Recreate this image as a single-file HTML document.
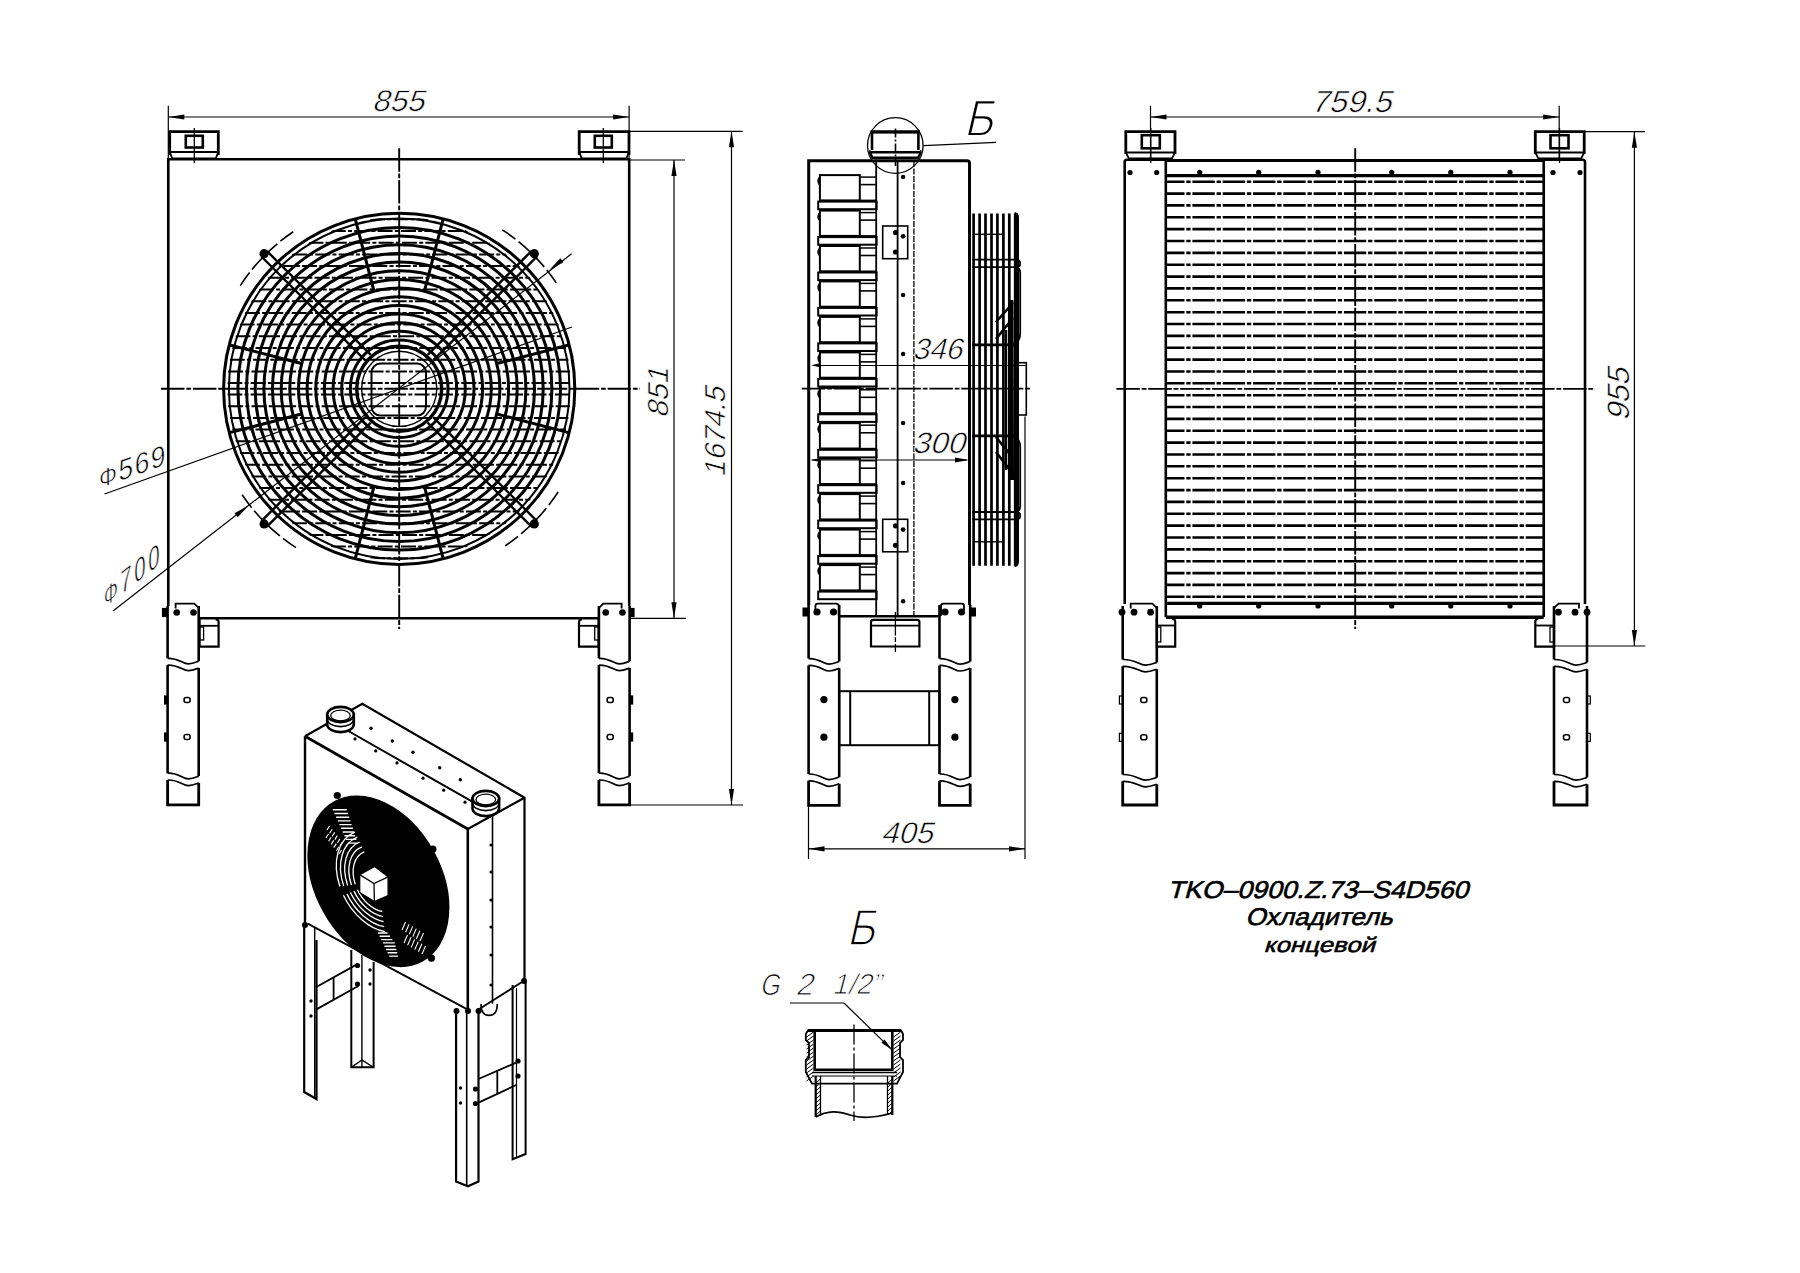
<!DOCTYPE html>
<html><head><meta charset="utf-8"><style>
html,body{margin:0;padding:0;background:#fff;}
svg{display:block;}
text{font-family:"Liberation Sans",sans-serif;font-style:italic;fill:#000;}
</style></head><body>
<svg width="1800" height="1273" viewBox="0 0 1800 1273">
<rect x="0" y="0" width="1800" height="1273" fill="#fff"/>
<g fill="none" stroke="#000" stroke-linecap="butt">
<line x1="168.3" y1="105.8" x2="168.3" y2="159" stroke-width="1.2" />
<line x1="629.1" y1="105.8" x2="629.1" y2="159" stroke-width="1.2" />
<line x1="168.3" y1="117" x2="629.1" y2="117" stroke-width="1.2" />
<path d="M168.3,117 L184.3,114.4 L184.3,119.6 Z" fill="#000" stroke="none"/>
<path d="M629.1,117 L613.1,119.6 L613.1,114.4 Z" fill="#000" stroke="none"/>
<path d="M169.7,155 L169.7,131.7 L218.3,131.7 L218.3,155" stroke-width="2.8" />
<line x1="169.7" y1="152" x2="218.3" y2="152" stroke-width="2.0" />
<path d="M169.7,152 L172.2,158.3 L215.8,158.3 L218.3,152" stroke-width="1.8" />
<rect x="185.8" y="135.8" width="17" height="11.7" stroke-width="2.6" />
<line x1="194.3" y1="128" x2="194.3" y2="163" stroke-width="1.3" />
<path d="M579.2,155 L579.2,131.7 L629,131.7 L629,155" stroke-width="2.8" />
<line x1="579.2" y1="152" x2="629" y2="152" stroke-width="2.0" />
<path d="M579.2,152 L581.7,158.3 L626.5,158.3 L629,152" stroke-width="1.8" />
<rect x="594.8" y="135.8" width="17" height="11.7" stroke-width="2.6" />
<line x1="603.3" y1="128" x2="603.3" y2="163" stroke-width="1.3" />
<path d="M168.3,606 V159.2 H629.2 V606" stroke-width="2.6" />
<line x1="198.7" y1="618.3" x2="598.9" y2="618.3" stroke-width="2.6" />
<line x1="399.2" y1="148.2" x2="399.2" y2="629" stroke-width="1.9" stroke-dasharray="23.5 1.8 4.8 1.8"/>
<line x1="161" y1="388.7" x2="640" y2="388.7" stroke-width="1.9" stroke-dasharray="23.5 1.8 4.8 1.8"/>
<line x1="629" y1="160" x2="685" y2="160" stroke-width="1.2" />
<line x1="630" y1="618.3" x2="686" y2="618.3" stroke-width="1.2" />
<line x1="674" y1="160" x2="674" y2="618.3" stroke-width="1.2" />
<path d="M674,160 L676.6,176 L671.4,176 Z" fill="#000" stroke="none"/>
<path d="M674,618.3 L671.4,602.3 L676.6,602.3 Z" fill="#000" stroke="none"/>
<line x1="629" y1="131.3" x2="742.7" y2="131.3" stroke-width="1.2" />
<line x1="630" y1="805" x2="743" y2="805" stroke-width="1.2" />
<line x1="731.5" y1="131.3" x2="731.5" y2="805" stroke-width="1.2" />
<path d="M731.5,131.3 L734.1,147.3 L728.9,147.3 Z" fill="#000" stroke="none"/>
<path d="M731.5,805 L728.9,789 L734.1,789 Z" fill="#000" stroke="none"/>

<path d="M167.6,606 V658.3 M198.7,606 V661.2" stroke-width="2.6" />
<path d="M167.6,658.3 C178.5,657.8 183.1,664.1 188.4,663.9 C193.1,663.8 196.2,662.1 198.7,661.2 M167.6,665.1 C178.5,664.6 183.1,670.9 188.4,670.7 C193.1,670.6 196.2,668.9 198.7,668" stroke-width="1.7" />
<path d="M167.6,665.1 V773.2 M198.7,668 V776.1" stroke-width="2.6" />
<path d="M167.6,773.2 C178.5,772.7 183.1,779 188.4,778.8 C193.1,778.7 196.2,777 198.7,776.1 M167.6,780 C178.5,779.5 183.1,785.8 188.4,785.6 C193.1,785.5 196.2,783.8 198.7,782.9" stroke-width="1.7" />
<path d="M167.6,780 V804.8 H198.7 V782.9" stroke-width="2.8" />
<path d="M175.6,608.5 V603.6 H194.2 L198.7,607.8" stroke-width="1.8" />
<rect x="184.1" y="697.5" width="6" height="5" stroke-width="1.6" rx="2"/>
<rect x="164.6" y="696" width="3" height="8" stroke-width="1.2" fill="#000"/>
<rect x="184.1" y="734.5" width="6" height="5" stroke-width="1.6" rx="2"/>
<rect x="164.6" y="733" width="3" height="8" stroke-width="1.2" fill="#000"/>
<path d="M598.9,606 V658.3 M629.6,606 V661.2" stroke-width="2.6" />
<path d="M598.9,658.3 C609.6,657.8 614.2,664.1 619.5,663.9 C624.1,663.8 627.1,662.1 629.6,661.2 M598.9,665.1 C609.6,664.6 614.2,670.9 619.5,670.7 C624.1,670.6 627.1,668.9 629.6,668" stroke-width="1.7" />
<path d="M598.9,665.1 V773.2 M629.6,668 V776.1" stroke-width="2.6" />
<path d="M598.9,773.2 C609.6,772.7 614.2,779 619.5,778.8 C624.1,778.7 627.1,777 629.6,776.1 M598.9,780 C609.6,779.5 614.2,785.8 619.5,785.6 C624.1,785.5 627.1,783.8 629.6,782.9" stroke-width="1.7" />
<path d="M598.9,780 V804.8 H629.6 V782.9" stroke-width="2.8" />
<path d="M598.9,607.8 L603.4,603.6 H621.6 V608.5" stroke-width="1.8" />
<rect x="607.2" y="697.5" width="6" height="5" stroke-width="1.6" rx="2"/>
<rect x="629.6" y="696" width="3" height="8" stroke-width="1.2" fill="#000"/>
<rect x="607.2" y="734.5" width="6" height="5" stroke-width="1.6" rx="2"/>
<rect x="629.6" y="733" width="3" height="8" stroke-width="1.2" fill="#000"/>
<circle cx="176.7" cy="612.5" r="3.3" fill="#000" stroke="none"/>
<circle cx="193.5" cy="612.5" r="3.3" fill="#000" stroke="none"/>
<circle cx="605.7" cy="612.5" r="3.3" fill="#000" stroke="none"/>
<circle cx="622.5" cy="612.5" r="3.3" fill="#000" stroke="none"/>
<rect x="162.5" y="608.5" width="4" height="8" stroke-width="1.2" fill="#000"/>
<rect x="630" y="608.5" width="4" height="8" stroke-width="1.2" fill="#000"/>
<path d="M199.6,619 L199.6,646.7 L218.6,646.7 L218.6,622 Q218.6,619.5 215.6,619.5" stroke-width="2.2" />
<line x1="199.6" y1="625.8" x2="218.6" y2="625.8" stroke-width="1.8" />
<rect x="199.6" y="627" width="4" height="13" stroke-width="1.3" />
<path d="M598.7,619 L598.7,646.7 L579,646.7 L579,622 Q579,619.5 582,619.5" stroke-width="2.2" />
<line x1="579" y1="625.8" x2="598.7" y2="625.8" stroke-width="1.8" />
<rect x="594.7" y="627" width="4" height="13" stroke-width="1.3" />
<defs><clipPath id="fanclip"><circle cx="399.2" cy="388.8" r="172"/></clipPath></defs>
<path d="M227.3,383.1 H571.1 M227.3,394.5 H571.1 M228.1,371.4 H570.3 M228.1,406.2 H570.3 M229.7,359.7 H568.7 M229.7,417.9 H568.7 M232.1,348 H566.3 M232.1,429.6 H566.3 M235.4,336.3 H563 M235.4,441.3 H563 M239.6,324.6 H558.8 M239.6,453 H558.8 M244.9,312.9 H553.5 M244.9,464.7 H553.5 M251.2,301.2 H547.2 M251.2,476.4 H547.2 M258.8,289.5 H539.6 M258.8,488.1 H539.6 M267.8,277.8 H530.6 M267.8,499.8 H530.6 M278.7,266.1 H519.7 M278.7,511.5 H519.7 M291.9,254.4 H506.5 M291.9,523.2 H506.5 M308.4,242.7 H490 M308.4,534.9 H490 M330.8,231 H467.6 M330.8,546.6 H467.6 M370,219.3 H428.4 M370,558.3 H428.4" stroke-width="2.0" clip-path="url(#fanclip)" stroke-dasharray="15 2.2 4 2.2"/>
<circle cx="399.2" cy="388.8" r="175.6" stroke-width="3.0" />
<circle cx="399.2" cy="388.8" r="170.3" stroke-width="2.0" />
<circle cx="399.2" cy="388.8" r="161.3" stroke-width="3.0" />
<circle cx="399.2" cy="388.8" r="152.7" stroke-width="3.0" />
<circle cx="399.2" cy="388.8" r="144" stroke-width="3.0" />
<circle cx="399.2" cy="388.8" r="135.3" stroke-width="3.0" />
<circle cx="399.2" cy="388.8" r="126.7" stroke-width="3.0" />
<circle cx="399.2" cy="388.8" r="118" stroke-width="3.0" />
<circle cx="399.2" cy="388.8" r="109.4" stroke-width="3.0" />
<circle cx="399.2" cy="388.8" r="100.7" stroke-width="3.0" />
<circle cx="399.2" cy="388.8" r="92.1" stroke-width="3.0" />
<circle cx="399.2" cy="388.8" r="83.4" stroke-width="3.0" />
<circle cx="399.2" cy="388.8" r="74.8" stroke-width="3.0" />
<circle cx="399.2" cy="388.8" r="66.1" stroke-width="3.0" />
<circle cx="399.2" cy="388.8" r="57.5" stroke-width="3.0" />
<circle cx="399.2" cy="388.8" r="48.8" stroke-width="3.0" />
<circle cx="399.2" cy="388.8" r="42.5" stroke-width="3.4" />
<circle cx="399.2" cy="388.8" r="37.6" stroke-width="1.4" />
<rect x="371.5" y="363.6" width="54.5" height="52" rx="9" stroke-width="2.0" fill="none"/>
<path d="M496,363.8 L569.6,344.7 M496,413.8 L569.6,432.9 M424.2,485.6 L443.3,559.2 M374.2,485.6 L355.1,559.2 M302.4,413.8 L228.8,432.9 M302.4,363.8 L228.8,344.7 M374.2,292 L355.1,218.4 M424.2,292 L443.3,218.4" stroke-width="3.0" />
<circle cx="534.3" cy="523.9" r="4.6" fill="#000" stroke="none"/>
<circle cx="264.1" cy="523.9" r="4.6" fill="#000" stroke="none"/>
<circle cx="264.1" cy="253.7" r="4.6" fill="#000" stroke="none"/>
<circle cx="534.3" cy="253.7" r="4.6" fill="#000" stroke="none"/>
<path d="M433.1,417.2 L537,521.1 M427.6,422.7 L531.5,526.6 M370.8,422.7 L266.9,526.6 M365.3,417.2 L261.4,521.1 M365.3,360.4 L261.4,256.5 M370.8,354.9 L266.9,251 M427.6,354.9 L531.5,251 M433.1,360.4 L537,256.5" stroke-width="2.4" />
<path d="M558.1,492 A189.5,189.5 0 0 1 502.4,547.7" stroke-width="1.6" stroke-dasharray="16 4"/>
<path d="M296,547.7 A189.5,189.5 0 0 1 240.3,492" stroke-width="1.6" stroke-dasharray="16 4"/>
<path d="M240.3,285.6 A189.5,189.5 0 0 1 296,229.9" stroke-width="1.6" stroke-dasharray="16 4"/>
<path d="M502.4,229.9 A189.5,189.5 0 0 1 558.1,285.6" stroke-width="1.6" stroke-dasharray="16 4"/>
<line x1="104.5" y1="494" x2="572" y2="327" stroke-width="1.2" />
<text x="0" y="0" font-size="28" letter-spacing="1.6" stroke="#fff" stroke-width="0.6" style="font-style:normal" transform="translate(99 488.5) rotate(-19.7) skewX(-19.7)"><tspan font-size="24" dy="0">&#934;</tspan>569</text>
<line x1="113" y1="611" x2="571.6" y2="253.7" stroke-width="1.2" />
<path d="M248.7,505.4 L237.7,517.3 L234.5,513.2 Z" fill="#000" stroke="none"/>
<path d="M549.3,270.1 L560.3,258.2 L563.5,262.3 Z" fill="#000" stroke="none"/>
<text x="0" y="0" font-size="26" letter-spacing="3.2" stroke="#fff" stroke-width="0.6" style="font-style:normal" transform="translate(104 608) rotate(-37.9) skewX(-37.9)"><tspan font-size="22">&#934;</tspan>700</text>
<path d="M808.7,605 L808.7,160.8 L967,160.8 Q969.5,160.8 969.5,163.5 L969.5,605" stroke-width="3.0" />
<line x1="839" y1="616.3" x2="939.5" y2="616.3" stroke-width="2.6" />
<rect x="818.2" y="201.6" width="58.4" height="7.6" stroke-width="2.0" />
<rect x="819.9" y="175.1" width="39.9" height="25.3" stroke-width="2.0" />
<line x1="859.8" y1="177.1" x2="876" y2="177.1" stroke-width="1.5" />
<line x1="859.8" y1="184.6" x2="876" y2="184.6" stroke-width="1.6" />
<line x1="859.8" y1="200.4" x2="876" y2="200.4" stroke-width="1.6" />
<path d="M819.9,177.1 Q816.5,181.1 819.9,185.1" stroke-width="1.8" />
<rect x="818.2" y="237.1" width="58.4" height="7.6" stroke-width="2.0" />
<rect x="819.9" y="210.6" width="39.9" height="25.3" stroke-width="2.0" />
<line x1="859.8" y1="212.6" x2="876" y2="212.6" stroke-width="1.5" />
<line x1="859.8" y1="220.1" x2="876" y2="220.1" stroke-width="1.6" />
<line x1="859.8" y1="235.9" x2="876" y2="235.9" stroke-width="1.6" />
<path d="M819.9,212.6 Q816.5,216.6 819.9,220.6" stroke-width="1.8" />
<rect x="818.2" y="272.5" width="58.4" height="7.6" stroke-width="2.0" />
<rect x="819.9" y="246" width="39.9" height="25.3" stroke-width="2.0" />
<line x1="859.8" y1="248" x2="876" y2="248" stroke-width="1.5" />
<line x1="859.8" y1="255.5" x2="876" y2="255.5" stroke-width="1.6" />
<line x1="859.8" y1="271.3" x2="876" y2="271.3" stroke-width="1.6" />
<path d="M819.9,248 Q816.5,252 819.9,256" stroke-width="1.8" />
<rect x="818.2" y="307.9" width="58.4" height="7.6" stroke-width="2.0" />
<rect x="819.9" y="281.4" width="39.9" height="25.3" stroke-width="2.0" />
<line x1="859.8" y1="283.4" x2="876" y2="283.4" stroke-width="1.5" />
<line x1="859.8" y1="290.9" x2="876" y2="290.9" stroke-width="1.6" />
<line x1="859.8" y1="306.8" x2="876" y2="306.8" stroke-width="1.6" />
<path d="M819.9,283.4 Q816.5,287.4 819.9,291.4" stroke-width="1.8" />
<rect x="818.2" y="343.4" width="58.4" height="7.6" stroke-width="2.0" />
<rect x="819.9" y="316.9" width="39.9" height="25.3" stroke-width="2.0" />
<line x1="859.8" y1="318.9" x2="876" y2="318.9" stroke-width="1.5" />
<line x1="859.8" y1="326.4" x2="876" y2="326.4" stroke-width="1.6" />
<line x1="859.8" y1="342.2" x2="876" y2="342.2" stroke-width="1.6" />
<path d="M819.9,318.9 Q816.5,322.9 819.9,326.9" stroke-width="1.8" />
<rect x="818.2" y="378.9" width="58.4" height="7.6" stroke-width="2.0" />
<rect x="819.9" y="352.4" width="39.9" height="25.3" stroke-width="2.0" />
<line x1="859.8" y1="354.4" x2="876" y2="354.4" stroke-width="1.5" />
<line x1="859.8" y1="361.9" x2="876" y2="361.9" stroke-width="1.6" />
<line x1="859.8" y1="377.7" x2="876" y2="377.7" stroke-width="1.6" />
<path d="M819.9,354.4 Q816.5,358.4 819.9,362.4" stroke-width="1.8" />
<rect x="818.2" y="414.3" width="58.4" height="7.6" stroke-width="2.0" />
<rect x="819.9" y="387.8" width="39.9" height="25.3" stroke-width="2.0" />
<line x1="859.8" y1="389.8" x2="876" y2="389.8" stroke-width="1.5" />
<line x1="859.8" y1="397.3" x2="876" y2="397.3" stroke-width="1.6" />
<line x1="859.8" y1="413.1" x2="876" y2="413.1" stroke-width="1.6" />
<path d="M819.9,389.8 Q816.5,393.8 819.9,397.8" stroke-width="1.8" />
<rect x="818.2" y="449.8" width="58.4" height="7.6" stroke-width="2.0" />
<rect x="819.9" y="423.2" width="39.9" height="25.3" stroke-width="2.0" />
<line x1="859.8" y1="425.2" x2="876" y2="425.2" stroke-width="1.5" />
<line x1="859.8" y1="432.8" x2="876" y2="432.8" stroke-width="1.6" />
<line x1="859.8" y1="448.6" x2="876" y2="448.6" stroke-width="1.6" />
<path d="M819.9,425.2 Q816.5,429.2 819.9,433.2" stroke-width="1.8" />
<rect x="818.2" y="485.2" width="58.4" height="7.6" stroke-width="2.0" />
<rect x="819.9" y="458.7" width="39.9" height="25.3" stroke-width="2.0" />
<line x1="859.8" y1="460.7" x2="876" y2="460.7" stroke-width="1.5" />
<line x1="859.8" y1="468.2" x2="876" y2="468.2" stroke-width="1.6" />
<line x1="859.8" y1="484" x2="876" y2="484" stroke-width="1.6" />
<path d="M819.9,460.7 Q816.5,464.7 819.9,468.7" stroke-width="1.8" />
<rect x="818.2" y="520.6" width="58.4" height="7.6" stroke-width="2.0" />
<rect x="819.9" y="494.1" width="39.9" height="25.3" stroke-width="2.0" />
<line x1="859.8" y1="496.1" x2="876" y2="496.1" stroke-width="1.5" />
<line x1="859.8" y1="503.6" x2="876" y2="503.6" stroke-width="1.6" />
<line x1="859.8" y1="519.4" x2="876" y2="519.4" stroke-width="1.6" />
<path d="M819.9,496.1 Q816.5,500.1 819.9,504.1" stroke-width="1.8" />
<rect x="818.2" y="556.1" width="58.4" height="7.6" stroke-width="2.0" />
<rect x="819.9" y="529.6" width="39.9" height="25.3" stroke-width="2.0" />
<line x1="859.8" y1="531.6" x2="876" y2="531.6" stroke-width="1.5" />
<line x1="859.8" y1="539.1" x2="876" y2="539.1" stroke-width="1.6" />
<line x1="859.8" y1="554.9" x2="876" y2="554.9" stroke-width="1.6" />
<path d="M819.9,531.6 Q816.5,535.6 819.9,539.6" stroke-width="1.8" />
<rect x="818.2" y="591.6" width="58.4" height="7.6" stroke-width="2.0" />
<rect x="819.9" y="565.1" width="39.9" height="25.3" stroke-width="2.0" />
<line x1="859.8" y1="567.1" x2="876" y2="567.1" stroke-width="1.5" />
<line x1="859.8" y1="574.6" x2="876" y2="574.6" stroke-width="1.6" />
<line x1="859.8" y1="590.4" x2="876" y2="590.4" stroke-width="1.6" />
<path d="M819.9,567.1 Q816.5,571.1 819.9,575.1" stroke-width="1.8" />
<line x1="876.2" y1="161" x2="876.2" y2="616" stroke-width="1.8" />
<line x1="897.6" y1="161" x2="897.6" y2="616" stroke-width="1.8" />
<line x1="913.9" y1="161" x2="913.9" y2="616" stroke-width="1.3" stroke-dasharray="6 1.5"/>
<circle cx="903.1" cy="177" r="2.2" fill="#000" stroke="none"/>
<circle cx="903.1" cy="295" r="2.2" fill="#000" stroke="none"/>
<circle cx="903.1" cy="354" r="2.2" fill="#000" stroke="none"/>
<circle cx="903.1" cy="423" r="2.2" fill="#000" stroke="none"/>
<circle cx="903.1" cy="483" r="2.2" fill="#000" stroke="none"/>
<circle cx="903.1" cy="601.3" r="2.2" fill="#000" stroke="none"/>
<rect x="882.7" y="226" width="25" height="32.7" stroke-width="1.6" />
<circle cx="895.5" cy="232.5" r="2.6" fill="#000" stroke="none"/>
<circle cx="903.1" cy="236.3" r="2.4" fill="#000" stroke="none"/>
<circle cx="895.5" cy="252" r="2.6" fill="#000" stroke="none"/>
<rect x="882.7" y="519.3" width="25" height="32.5" stroke-width="1.6" />
<circle cx="895.5" cy="525.8" r="2.6" fill="#000" stroke="none"/>
<circle cx="903.1" cy="529.6" r="2.4" fill="#000" stroke="none"/>
<circle cx="895.5" cy="545.3" r="2.6" fill="#000" stroke="none"/>
<path d="M872,150 V131.9 H918.4 V150" stroke-width="2.6" />
<line x1="870.5" y1="131.9" x2="920" y2="131.9" stroke-width="3.0" />
<path d="M869.8,150 L869.8,152.3 H920.8 V150" stroke-width="1.2" />
<line x1="869.8" y1="152.3" x2="920.8" y2="152.3" stroke-width="2.6" />
<path d="M869.8,152.3 L872.5,157.7 H918 L920.8,152.3" stroke-width="2.4" />
<line x1="895.5" y1="128.5" x2="895.5" y2="166" stroke-width="1.6" stroke-dasharray="9 2 2 2"/>
<circle cx="895.3" cy="145.5" r="27.8" stroke-width="1.3" />
<line x1="923.5" y1="145.7" x2="996.2" y2="142.4" stroke-width="1.2" />
<line x1="973.6" y1="213.5" x2="973.6" y2="565.7" stroke-width="2.7" />
<line x1="979.6" y1="213.5" x2="979.6" y2="565.7" stroke-width="2.7" />
<line x1="985.5" y1="213.5" x2="985.5" y2="565.7" stroke-width="2.7" />
<line x1="991.5" y1="213.5" x2="991.5" y2="565.7" stroke-width="2.7" />
<line x1="997.4" y1="213.5" x2="997.4" y2="565.7" stroke-width="2.7" />
<line x1="1003.4" y1="213.5" x2="1003.4" y2="565.7" stroke-width="2.7" />
<line x1="1009.3" y1="213.5" x2="1009.3" y2="565.7" stroke-width="2.7" />
<line x1="1015.2" y1="213.5" x2="1015.2" y2="565.7" stroke-width="2.7" />
<path d="M1014.5,213.5 Q1017.5,214 1017.5,218 V561 Q1017.5,565.5 1014.5,565.7" stroke-width="3.0" />
<path d="M972,259.7 H1016 Q1020.2,259.7 1020.2,263.5 Q1020.2,267.2 1016,267.2 H972" stroke-width="1.8" />
<path d="M972,512 H1016 Q1020.2,512 1020.2,515.7 Q1020.2,519.4 1016,519.4 H972" stroke-width="1.8" />
<path d="M1016,267.2 Q1020.2,268 1020.2,273 V333 Q1020.2,342 1013,344.8" stroke-width="1.8" />
<path d="M1016,512 Q1020.2,511 1020.2,506 V447 Q1020.2,438 1013,435.8" stroke-width="1.8" />
<line x1="972" y1="344.8" x2="1016" y2="344.8" stroke-width="2.8" />
<line x1="972" y1="435.8" x2="1016" y2="435.8" stroke-width="2.8" />
<line x1="974" y1="234.3" x2="1004" y2="234.3" stroke-width="1.4" />
<line x1="974" y1="541.8" x2="1004" y2="541.8" stroke-width="1.4" />
<rect x="1016.7" y="362.7" width="9.6" height="52.3" stroke-width="1.6" />
<path d="M1011.5,300 L1012,480" stroke-width="4.0" />
<path d="M996,322 L1013,303 M996,339 L1013,318" stroke-width="2.6" />
<path d="M996,437 L1013,458 M996,452 L1013,474" stroke-width="2.6" />
<path d="M1006,330 L1006,470" stroke-width="2.4" />
<line x1="815.5" y1="365.5" x2="1025.7" y2="365.5" stroke-width="1.2" />
<line x1="811.6" y1="460" x2="966.8" y2="460" stroke-width="1.2" />
<path d="M969,460 L955,462.4 L955,457.6 Z" fill="#000" stroke="none"/>
<line x1="801.8" y1="388.6" x2="1030" y2="388.6" stroke-width="1.9" stroke-dasharray="23.5 1.8 4.8 1.8"/>
<line x1="808.5" y1="805" x2="808.5" y2="859" stroke-width="1.2" />
<line x1="1025" y1="416.4" x2="1025" y2="859" stroke-width="1.2" />
<line x1="808.5" y1="848.8" x2="1025" y2="848.8" stroke-width="1.2" />
<path d="M808.5,848.8 L824.5,846.2 L824.5,851.4 Z" fill="#000" stroke="none"/>
<path d="M1025,848.8 L1009,851.4 L1009,846.2 Z" fill="#000" stroke="none"/>
<path d="M808.6,605 V658.6 M839.2,605 V661.5" stroke-width="2.6" />
<path d="M808.6,658.6 C819.3,658.1 823.9,664.4 829.1,664.2 C833.7,664.1 836.8,662.4 839.2,661.5 M808.6,665.4 C819.3,664.9 823.9,671.2 829.1,671 C833.7,670.9 836.8,669.2 839.2,668.3" stroke-width="1.7" />
<path d="M808.6,665.4 V774 M839.2,668.3 V776.9" stroke-width="2.6" />
<path d="M808.6,774 C819.3,773.5 823.9,779.8 829.1,779.6 C833.7,779.5 836.8,777.8 839.2,776.9 M808.6,780.8 C819.3,780.3 823.9,786.6 829.1,786.4 C833.7,786.3 836.8,784.6 839.2,783.7" stroke-width="1.7" />
<path d="M808.6,780.8 V805.3 H839.2 V783.7" stroke-width="2.8" />
<circle cx="823.9" cy="699.6" r="3.6" fill="#000" stroke="none"/>
<circle cx="823.9" cy="737.2" r="3.6" fill="#000" stroke="none"/>
<path d="M939.5,605 V658.6 M970.2,605 V661.5" stroke-width="2.6" />
<path d="M939.5,658.6 C950.2,658.1 954.9,664.4 960.1,664.2 C964.7,664.1 967.7,662.4 970.2,661.5 M939.5,665.4 C950.2,664.9 954.9,671.2 960.1,671 C964.7,670.9 967.7,669.2 970.2,668.3" stroke-width="1.7" />
<path d="M939.5,665.4 V774 M970.2,668.3 V776.9" stroke-width="2.6" />
<path d="M939.5,774 C950.2,773.5 954.9,779.8 960.1,779.6 C964.7,779.5 967.7,777.8 970.2,776.9 M939.5,780.8 C950.2,780.3 954.9,786.6 960.1,786.4 C964.7,786.3 967.7,784.6 970.2,783.7" stroke-width="1.7" />
<path d="M939.5,780.8 V805.3 H970.2 V783.7" stroke-width="2.8" />
<circle cx="954.9" cy="699.6" r="3.6" fill="#000" stroke="none"/>
<circle cx="954.9" cy="737.2" r="3.6" fill="#000" stroke="none"/>
<path d="M815.4,610 V606 Q815.4,603.6 818,603.6 H836 Q838.7,603.6 838.7,606 V616" stroke-width="1.8" />
<path d="M941,616 V606 Q941,603.6 943.6,603.6 H961.6 Q964,603.6 964,606 V610" stroke-width="1.8" />
<circle cx="817" cy="612" r="3.6" fill="#000" stroke="none"/>
<circle cx="833.5" cy="612" r="3.6" fill="#000" stroke="none"/>
<circle cx="945" cy="612" r="3.6" fill="#000" stroke="none"/>
<circle cx="961.5" cy="612" r="3.6" fill="#000" stroke="none"/>
<rect x="803" y="608" width="5.5" height="8" stroke-width="1" fill="#000"/>
<rect x="970.2" y="608" width="5.3" height="8" stroke-width="1" fill="#000"/>
<path d="M871,646.5 V622 Q871,619.9 873.5,619.9 H916.9 Q919.4,619.9 919.4,622 V646.5 H871 Z" stroke-width="2.2" />
<line x1="871" y1="625.6" x2="919.4" y2="625.6" stroke-width="1.6" />
<line x1="895.4" y1="612" x2="895.4" y2="652" stroke-width="1.3" stroke-dasharray="23.5 1.8 4.8 1.8"/>
<rect x="839.2" y="691.2" width="100.3" height="54" stroke-width="2.0" />
<line x1="850.2" y1="691.2" x2="850.2" y2="745.2" stroke-width="2.0" />
<line x1="929.2" y1="691.2" x2="929.2" y2="745.2" stroke-width="2.0" />
<path d="M811,365.3 L821,363.1 L821,367.5 Z" fill="#000" stroke="none"/>
<path d="M811,460 L821,457.8 L821,462.2 Z" fill="#000" stroke="none"/>
<line x1="1150.5" y1="105.8" x2="1150.5" y2="160" stroke-width="1.2" />
<line x1="1559.2" y1="105.8" x2="1559.2" y2="160" stroke-width="1.2" />
<line x1="1150.5" y1="117" x2="1559.2" y2="117" stroke-width="1.2" />
<path d="M1150.5,117 L1166.5,114.4 L1166.5,119.6 Z" fill="#000" stroke="none"/>
<path d="M1559.2,117 L1543.2,119.6 L1543.2,114.4 Z" fill="#000" stroke="none"/>
<path d="M1125.8,154 L1125.8,131.7 L1175,131.7 L1175,154" stroke-width="2.8" />
<line x1="1125.8" y1="152.5" x2="1175" y2="152.5" stroke-width="2.0" />
<path d="M1125.8,152.5 L1128.8,158.3 L1172,158.3 L1175,152.5" stroke-width="1.8" />
<rect x="1141.8" y="135.2" width="18" height="13.1" stroke-width="2.6" />
<line x1="1150.8" y1="128" x2="1150.8" y2="163" stroke-width="1.3" />
<path d="M1535.3,154 L1535.3,131.7 L1584.2,131.7 L1584.2,154" stroke-width="2.8" />
<line x1="1535.3" y1="152.5" x2="1584.2" y2="152.5" stroke-width="2.0" />
<path d="M1535.3,152.5 L1538.3,158.3 L1581.2,158.3 L1584.2,152.5" stroke-width="1.8" />
<rect x="1550.5" y="135.2" width="18" height="13.1" stroke-width="2.6" />
<line x1="1559.5" y1="128" x2="1559.5" y2="163" stroke-width="1.3" />
<path d="M1124.7,604 V162 Q1124.7,159.7 1127,159.7 H1165.8 V617" stroke-width="2.6" />
<path d="M1543.7,617 V159.7 H1582.5 Q1585,159.7 1585,162 V604" stroke-width="2.6" />
<line x1="1165.8" y1="160.6" x2="1543.7" y2="160.6" stroke-width="3.0" />
<line x1="1165.8" y1="175.6" x2="1543.7" y2="175.6" stroke-width="3.4" />
<line x1="1165.8" y1="603.4" x2="1543.7" y2="603.4" stroke-width="3.4" />
<line x1="1165.8" y1="617.2" x2="1543.7" y2="617.2" stroke-width="3.4" />
<circle cx="1199.7" cy="172.3" r="2.6" fill="#000" stroke="none"/>
<circle cx="1199.7" cy="606" r="2.6" fill="#000" stroke="none"/>
<circle cx="1258.7" cy="172.3" r="2.6" fill="#000" stroke="none"/>
<circle cx="1258.7" cy="606" r="2.6" fill="#000" stroke="none"/>
<circle cx="1318" cy="172.3" r="2.6" fill="#000" stroke="none"/>
<circle cx="1318" cy="606" r="2.6" fill="#000" stroke="none"/>
<circle cx="1391.7" cy="172.3" r="2.6" fill="#000" stroke="none"/>
<circle cx="1391.7" cy="606" r="2.6" fill="#000" stroke="none"/>
<circle cx="1450.8" cy="172.3" r="2.6" fill="#000" stroke="none"/>
<circle cx="1450.8" cy="606" r="2.6" fill="#000" stroke="none"/>
<circle cx="1510" cy="172.3" r="2.6" fill="#000" stroke="none"/>
<circle cx="1510" cy="606" r="2.6" fill="#000" stroke="none"/>
<circle cx="1130" cy="172.5" r="2.6" fill="#000" stroke="none"/>
<circle cx="1156.7" cy="172.5" r="2.6" fill="#000" stroke="none"/>
<circle cx="1553" cy="172.5" r="2.6" fill="#000" stroke="none"/>
<circle cx="1580" cy="172.5" r="2.6" fill="#000" stroke="none"/>
<path d="M1166,181.7 H1543.7 M1166,193.6 H1543.7 M1166,205.4 H1543.7 M1166,217.3 H1543.7 M1166,229.1 H1543.7 M1166,241 H1543.7 M1166,252.9 H1543.7 M1166,264.7 H1543.7 M1166,276.6 H1543.7 M1166,288.4 H1543.7 M1166,300.3 H1543.7 M1166,312.2 H1543.7 M1166,324 H1543.7 M1166,335.9 H1543.7 M1166,347.7 H1543.7 M1166,359.6 H1543.7 M1166,371.5 H1543.7 M1166,383.3 H1543.7 M1166,395.2 H1543.7 M1166,407 H1543.7 M1166,418.9 H1543.7 M1166,430.8 H1543.7 M1166,442.6 H1543.7 M1166,454.5 H1543.7 M1166,466.3 H1543.7 M1166,478.2 H1543.7 M1166,490.1 H1543.7 M1166,501.9 H1543.7 M1166,513.8 H1543.7 M1166,525.6 H1543.7 M1166,537.5 H1543.7 M1166,549.4 H1543.7 M1166,561.2 H1543.7 M1166,573.1 H1543.7 M1166,584.9 H1543.7 M1166,596.8 H1543.7" stroke-width="2.6" stroke-dasharray="22.4 1.8 4.3 1.8" stroke-dashoffset="3.9"/>
<line x1="1355.2" y1="148.2" x2="1355.2" y2="629" stroke-width="1.9" stroke-dasharray="23.5 1.8 4.8 1.8"/>
<line x1="1116.4" y1="388.9" x2="1595" y2="388.9" stroke-width="1.9" stroke-dasharray="23.5 1.8 4.8 1.8"/>
<line x1="1584.2" y1="131.7" x2="1645" y2="131.7" stroke-width="1.2" />
<line x1="1554" y1="646" x2="1645.3" y2="646" stroke-width="1.2" />
<line x1="1634.4" y1="131.7" x2="1634.4" y2="646" stroke-width="1.2" />
<path d="M1634.4,131.7 L1637,147.7 L1631.8,147.7 Z" fill="#000" stroke="none"/>
<path d="M1634.4,646 L1631.8,630 L1637,630 Z" fill="#000" stroke="none"/>
<path d="M1122.7,606 V659.5 M1156.8,606 V662.4" stroke-width="2.6" />
<path d="M1122.7,659.5 C1134.6,659 1139.8,665.3 1145.5,665.1 C1150.7,665 1154.1,663.3 1156.8,662.4 M1122.7,666.3 C1134.6,665.8 1139.8,672.1 1145.5,671.9 C1150.7,671.8 1154.1,670.1 1156.8,669.2" stroke-width="1.7" />
<path d="M1122.7,666.3 V774.5 M1156.8,669.2 V777.4" stroke-width="2.6" />
<path d="M1122.7,774.5 C1134.6,774 1139.8,780.3 1145.5,780.1 C1150.7,780 1154.1,778.3 1156.8,777.4 M1122.7,781.3 C1134.6,780.8 1139.8,787.1 1145.5,786.9 C1150.7,786.8 1154.1,785.1 1156.8,784.2" stroke-width="1.7" />
<path d="M1122.7,781.3 V805 H1156.8 V784.2" stroke-width="2.8" />
<path d="M1130.7,608.5 V603.6 H1152.3 L1156.8,607.8" stroke-width="1.8" />
<rect x="1140.8" y="697.5" width="6" height="5" stroke-width="1.6" rx="2"/>
<rect x="1119.4" y="696" width="3.6" height="8" stroke-width="1.2" />
<rect x="1140.8" y="734.8" width="6" height="5" stroke-width="1.6" rx="2"/>
<rect x="1119.4" y="733.3" width="3.6" height="8" stroke-width="1.2" />
<path d="M1554,606 V659.5 M1587,606 V662.4" stroke-width="2.6" />
<path d="M1554,659.5 C1565.5,659 1570.5,665.3 1576.1,665.1 C1581.1,665 1584.4,663.3 1587,662.4 M1554,666.3 C1565.5,665.8 1570.5,672.1 1576.1,671.9 C1581.1,671.8 1584.4,670.1 1587,669.2" stroke-width="1.7" />
<path d="M1554,666.3 V774.5 M1587,669.2 V777.4" stroke-width="2.6" />
<path d="M1554,774.5 C1565.5,774 1570.5,780.3 1576.1,780.1 C1581.1,780 1584.4,778.3 1587,777.4 M1554,781.3 C1565.5,780.8 1570.5,787.1 1576.1,786.9 C1581.1,786.8 1584.4,785.1 1587,784.2" stroke-width="1.7" />
<path d="M1554,781.3 V805 H1587 V784.2" stroke-width="2.8" />
<path d="M1554,607.8 L1558.5,603.6 H1579 V608.5" stroke-width="1.8" />
<rect x="1563.5" y="697.5" width="6" height="5" stroke-width="1.6" rx="2"/>
<rect x="1586.7" y="696" width="3.6" height="8" stroke-width="1.2" />
<rect x="1563.5" y="734.8" width="6" height="5" stroke-width="1.6" rx="2"/>
<rect x="1586.7" y="733.3" width="3.6" height="8" stroke-width="1.2" />
<circle cx="1122" cy="612.2" r="3.4" fill="#000" stroke="none"/>
<circle cx="1134" cy="612.2" r="3.4" fill="#000" stroke="none"/>
<circle cx="1150.6" cy="612.2" r="3.4" fill="#000" stroke="none"/>
<circle cx="1558.4" cy="612.2" r="3.4" fill="#000" stroke="none"/>
<circle cx="1575" cy="612.2" r="3.4" fill="#000" stroke="none"/>
<circle cx="1587" cy="612.2" r="3.4" fill="#000" stroke="none"/>
<path d="M1156.8,618 L1156.8,646.7 L1175.2,646.7 L1175.2,621.5 Q1175.2,619 1172.2,619" stroke-width="2.2" />
<line x1="1156.8" y1="625.5" x2="1175.2" y2="625.5" stroke-width="1.8" />
<rect x="1156.8" y="627" width="4" height="15" stroke-width="1.3" />
<path d="M1554,618 L1554,646.7 L1535.3,646.7 L1535.3,621.5 Q1535.3,619 1538.3,619" stroke-width="2.2" />
<line x1="1535.3" y1="625.5" x2="1554" y2="625.5" stroke-width="1.8" />
<rect x="1550" y="627" width="4" height="15" stroke-width="1.3" />
<path d="M305,736.3 L305,925" stroke-width="2.4" />
<path d="M305,736.3 L467.8,829" stroke-width="2.8" />
<path d="M467.8,829 L467.8,1009.6" stroke-width="2.6" />
<path d="M467.8,829 L524.5,797.7" stroke-width="2.2" />
<path d="M305,736.3 L362.3,703.7 L524.5,797.7 L524.5,981.3" stroke-width="2.2" />
<line x1="348.3" y1="731" x2="472.3" y2="801.7" stroke-width="2.0" />
<circle cx="355" cy="738.9" r="1.6" fill="#000" stroke="none"/>
<circle cx="375.7" cy="750.9" r="1.6" fill="#000" stroke="none"/>
<circle cx="397" cy="762.9" r="1.6" fill="#000" stroke="none"/>
<circle cx="423" cy="778.2" r="1.6" fill="#000" stroke="none"/>
<circle cx="443.7" cy="790.2" r="1.6" fill="#000" stroke="none"/>
<circle cx="465" cy="802.2" r="1.6" fill="#000" stroke="none"/>
<circle cx="371" cy="728.3" r="1.7" fill="#000" stroke="none"/>
<circle cx="392.3" cy="741" r="1.7" fill="#000" stroke="none"/>
<circle cx="413" cy="752.3" r="1.7" fill="#000" stroke="none"/>
<circle cx="439.7" cy="767.7" r="1.7" fill="#000" stroke="none"/>
<circle cx="460.3" cy="779.7" r="1.7" fill="#000" stroke="none"/>
<line x1="492.5" y1="816" x2="492.5" y2="1003.7" stroke-width="1.6" />
<circle cx="491" cy="845" r="1.6" fill="#000" stroke="none"/>
<circle cx="491" cy="872" r="1.6" fill="#000" stroke="none"/>
<circle cx="491" cy="900" r="1.6" fill="#000" stroke="none"/>
<circle cx="491" cy="927" r="1.6" fill="#000" stroke="none"/>
<circle cx="491" cy="955" r="1.6" fill="#000" stroke="none"/>
<circle cx="491" cy="985" r="1.6" fill="#000" stroke="none"/>
<path d="M307.7,923.6 L467.8,1009.6" stroke-width="1.8" />
<path d="M478.5,1009.6 L523.2,981.3" stroke-width="1.8" />
<path d="M327.2,714.5 V724.5 A13.3,7.6 0 0 0 353.8,724.5 V714.5 Z" fill="#fff" stroke-width="2.6"/>
<path d="M327.2,719 A13.3,7.6 0 0 0 353.8,719" stroke-width="1.6"/>
<ellipse cx="340.5" cy="714.5" rx="13.3" ry="7.6" fill="#fff" stroke-width="2.6"/>
<ellipse cx="340.5" cy="715.5" rx="9.8" ry="5.3" fill="none" stroke-width="1.3"/>
<path d="M472.5,798.5 V808.5 A13.3,7.6 0 0 0 499.1,808.5 V798.5 Z" fill="#fff" stroke-width="2.6"/>
<path d="M472.5,803 A13.3,7.6 0 0 0 499.1,803" stroke-width="1.6"/>
<ellipse cx="485.8" cy="798.5" rx="13.3" ry="7.6" fill="#fff" stroke-width="2.6"/>
<ellipse cx="485.8" cy="799.5" rx="9.8" ry="5.3" fill="none" stroke-width="1.3"/>
<ellipse cx="0" cy="0" rx="90.9" ry="62.5" transform="translate(378.4 881.3) rotate(61)" fill="#000" stroke="#000" stroke-width="1.5"/>
<path d="M355.3,884.4 A32.7,22.5 61 0 1 364.3,851.8 M382.3,911.5 A32.7,22.5 61 0 1 357.4,889.7 M351.4,885 A38.2,26.2 61 0 1 362,846.9 M382.9,916.6 A38.2,26.2 61 0 1 353.9,891.1 M347.6,885.5 A43.6,30 61 0 1 359.6,842 M383.6,921.6 A43.6,30 61 0 1 350.4,892.5 M343.7,886 A49.1,33.8 61 0 1 357.3,837.1 M384.2,926.7 A49.1,33.8 61 0 1 346.9,893.9 M339.9,886.5 A54.5,37.5 61 0 1 354.9,832.2 M384.9,931.7 A54.5,37.5 61 0 1 343.4,895.3" stroke-width="1.3" stroke="#fff"/>
<path d="M332.8,809.8 h14 M334.4,813.5 h13.6 M336.1,817.2 h13.1 M337.8,820.9 h12.7 M339.4,824.6 h12.2 M341.1,828.3 h11.8 M342.7,832 h11.3 M344.4,835.7 h10.8 M346,839.4 h10.4 M347.7,843.1 h9.9 M378,933 h9.6 M379.6,936.3 h10.4 M381.2,939.6 h11.2 M382.8,942.9 h12 M384.4,946.2 h11.2 M386,949.5 h10.4 M387.6,952.8 h9.6 M389.2,956.1 h8.8" stroke-width="1.4" stroke="#fff"/>
<path d="M327,830 l2.5,-4 M326,838 l2.5,-4 M329.6,833.2 l2.5,-4 M328.6,841.2 l2.5,-4 M332.2,836.4 l2.5,-4 M331.2,844.4 l2.5,-4 M334.8,839.6 l2.5,-4 M333.8,847.6 l2.5,-4 M337.4,842.8 l2.5,-4 M336.4,850.8 l2.5,-4 M340,846 l2.5,-4 M339,854 l2.5,-4 M402,930 l3.5,-8 M404,943 l3.5,-8 M405.6,932.2 l3.5,-8 M407.6,945.2 l3.5,-8 M409.2,934.4 l3.5,-8 M411.2,947.4 l3.5,-8 M412.8,936.6 l3.5,-8 M414.8,949.6 l3.5,-8 M416.4,938.8 l3.5,-8 M418.4,951.8 l3.5,-8 M420,941 l3.5,-8 M422,954 l3.5,-8" stroke-width="1.1" stroke="#fff"/>
<path d="M359.7,874.6 L374.7,866.4 L388.1,876.8 L388.1,895.5 L374.4,901.5 L359.7,892.5 Z" fill="#fff" stroke="#000" stroke-width="1.3"/>
<path d="M359.7,874.6 L374,883.6 L388.1,876.8 M374,883.6 L374.4,901.5" stroke-width="1.3" />
<circle cx="337.3" cy="795.5" r="3.6" fill="#000" stroke="none"/>
<circle cx="432.9" cy="849.2" r="3.6" fill="#000" stroke="none"/>
<circle cx="431.4" cy="958.2" r="3.6" fill="#000" stroke="none"/>
<path d="M304.2,925 V1092 L316.5,1099 V940" stroke-width="2.2" />
<line x1="314.7" y1="928" x2="314.7" y2="1098" stroke-width="1.4" />
<path d="M351.3,950 V1067.3 H373.6 V962" stroke-width="2.0" />
<line x1="361.9" y1="955" x2="361.9" y2="1067.3" stroke-width="1.4" />
<path d="M351.3,1067.3 L361.9,1060 L373.6,1067.3" stroke-width="1.4" />
<path d="M315.9,987.2 L358.3,963.6 M315.9,1009.6 L358.3,986 M333.6,977.5 V999.5" stroke-width="1.8" />
<circle cx="357.5" cy="965.5" r="2.6" fill="#000" stroke="none"/>
<circle cx="357.5" cy="984" r="2.6" fill="#000" stroke="none"/>
<circle cx="311" cy="1001" r="1.7" fill="#000" stroke="none"/>
<circle cx="311" cy="1016" r="1.7" fill="#000" stroke="none"/>
<circle cx="370" cy="970" r="1.7" fill="#000" stroke="none"/>
<circle cx="370" cy="984" r="1.7" fill="#000" stroke="none"/>
<path d="M456.1,1010 V1181.5 L467.9,1186.3 L478.5,1181.5 V1010" stroke-width="2.2" />
<line x1="466.7" y1="1012" x2="466.7" y2="1185" stroke-width="1.6" />
<path d="M512.6,985 V1159.2 L525.6,1154 V980" stroke-width="2.0" />
<line x1="516.5" y1="988" x2="516.5" y2="1157" stroke-width="1.2" />
<path d="M478.5,1079 L516.2,1062.6 M478.5,1102.6 L516.2,1085 M497.3,1071 V1094" stroke-width="1.8" />
<circle cx="475.5" cy="1089" r="2.6" fill="#000" stroke="none"/>
<circle cx="475.5" cy="1103.5" r="2.6" fill="#000" stroke="none"/>
<circle cx="518" cy="1061" r="2.6" fill="#000" stroke="none"/>
<circle cx="518" cy="1076" r="2.6" fill="#000" stroke="none"/>
<circle cx="460.5" cy="1088" r="1.7" fill="#000" stroke="none"/>
<circle cx="460.5" cy="1103" r="1.7" fill="#000" stroke="none"/>
<circle cx="305" cy="925" r="3" fill="#000" stroke="none"/>
<circle cx="456.5" cy="1011" r="3" fill="#000" stroke="none"/>
<circle cx="468" cy="1011" r="3" fill="#000" stroke="none"/>
<circle cx="478.5" cy="1011" r="3" fill="#000" stroke="none"/>
<circle cx="524" cy="981" r="3" fill="#000" stroke="none"/>
<path d="M481,1004 Q481,1015.4 489,1015.4 Q497.3,1015.4 497.3,1004" stroke-width="1.6" />
<line x1="790" y1="1003" x2="844" y2="1003" stroke-width="1.2" />
<line x1="844" y1="1003" x2="892.3" y2="1050.1" stroke-width="1.2" />
<path d="M892.3,1050.1 L881.4,1042.7 L884.6,1039.4 Z" fill="#000" stroke="none"/>
<path d="M805.8,1034 L808,1030.5 H901 L903,1034 V1040 L900,1043 V1057 L903,1060 V1072 L897,1083.6 H812 L805.8,1072 V1060 L809,1057 V1043 L805.8,1040 Z" stroke-width="1.8" />
<path d="M814.7,1030.5 V1069.8 H892.3 V1030.5" stroke-width="2.6" />
<line x1="808" y1="1030.5" x2="901" y2="1030.5" stroke-width="3.0" />
<path d="M806.5,1037 L813.5,1032 M893.5,1037 L900.5,1032 M806.5,1041 L813.5,1036 M893.5,1041 L900.5,1036 M806.5,1045 L813.5,1040 M893.5,1045 L900.5,1040 M806.5,1049 L813.5,1044 M893.5,1049 L900.5,1044 M806.5,1053 L813.5,1048 M893.5,1053 L900.5,1048 M806.5,1057 L813.5,1052 M893.5,1057 L900.5,1052 M806.5,1061 L813.5,1056 M893.5,1061 L900.5,1056 M806.5,1065 L813.5,1060 M893.5,1065 L900.5,1060 M806.5,1069 L813.5,1064 M893.5,1069 L900.5,1064 M806.5,1073 L813.5,1068 M893.5,1073 L900.5,1068 M806.5,1077 L813.5,1072 M893.5,1077 L900.5,1072 M806.5,1081 L813.5,1076 M893.5,1081 L900.5,1076" stroke-width="1.0" />
<line x1="812" y1="1072.5" x2="897" y2="1072.5" stroke-width="1.6" />
<line x1="812" y1="1076" x2="897" y2="1076" stroke-width="1.0" />
<path d="M815.7,1076 V1117 M892.3,1076 V1115" stroke-width="2.2" />
<path d="M820.5,1076 V1116 M887.5,1076 V1115" stroke-width="1.3" />
<path d="M816,1083 L820.2,1079 M888,1083 L892,1079 M816,1087 L820.2,1083 M888,1087 L892,1083 M816,1091 L820.2,1087 M888,1091 L892,1087 M816,1095 L820.2,1091 M888,1095 L892,1091 M816,1099 L820.2,1095 M888,1099 L892,1095 M816,1103 L820.2,1099 M888,1103 L892,1099 M816,1107 L820.2,1103 M888,1107 L892,1103 M816,1111 L820.2,1107 M888,1111 L892,1107 M816,1115 L820.2,1111 M888,1115 L892,1111" stroke-width="1.0" />
<path d="M815.7,1117 C828,1110 838,1111 850,1115 S875,1118 892.3,1113" stroke-width="1.8" />
<line x1="854" y1="1024.6" x2="854" y2="1120.9" stroke-width="1.3" stroke-dasharray="20 3 3 3"/>
<text x="0" y="0" font-size="28" transform="translate(371.84 111.20) scale(1.1135 1.0701) skewX(-15)" stroke="#fff" stroke-width="0.6" style="font-style:normal;font-weight:normal">855</text>
<text x="0" y="0" font-size="28" transform="translate(1310.80 111.60) scale(1.1448 1.0961) skewX(-15)" stroke="#fff" stroke-width="0.6" style="font-style:normal;font-weight:normal">759.5</text>
<text x="0" y="0" font-size="28" transform="translate(668.30 418.36) rotate(-90) scale(1.0760 1.0390) skewX(-15)" stroke="#fff" stroke-width="0.6" style="font-style:normal;font-weight:normal">851</text>
<text x="0" y="0" font-size="28" transform="translate(725.40 477.43) rotate(-90) scale(1.0538 1.0390) skewX(-15)" stroke="#fff" stroke-width="0.6" style="font-style:normal;font-weight:normal">1674.5</text>
<text x="0" y="0" font-size="28" transform="translate(1628.90 421.30) rotate(-90) scale(1.1348 1.1117) skewX(-15)" stroke="#fff" stroke-width="0.6" style="font-style:normal;font-weight:normal">955</text>
<text x="0" y="0" font-size="28" transform="translate(912.18 359.20) scale(1.0609 1.0494) skewX(-15)" stroke="#fff" stroke-width="0.6" style="font-style:normal;font-weight:normal">346</text>
<text x="0" y="0" font-size="28" transform="translate(912.01 453.10) scale(1.1235 1.0494) skewX(-15)" stroke="#fff" stroke-width="0.6" style="font-style:normal;font-weight:normal">300</text>
<text x="0" y="0" font-size="28" transform="translate(880.82 842.90) scale(1.1037 1.0649) skewX(-15)" stroke="#fff" stroke-width="0.6" style="font-style:normal;font-weight:normal">405</text>
<text x="0" y="0" font-size="44" transform="translate(963.42 136.48) scale(1.0171 1.1791) skewX(-15)" stroke="#fff" stroke-width="1.5" style="font-style:normal;font-weight:normal">&#1041;</text>
<text x="0" y="0" font-size="44" transform="translate(846.61 944.87) scale(0.9752 1.1617) skewX(-15)" stroke="#fff" stroke-width="1.5" style="font-style:normal;font-weight:normal">&#1041;</text>
<text x="0" y="0" font-size="24" transform="translate(1167.44 897.89) scale(1.1104 1.0114) skewX(-14)" stroke="#000" stroke-width="0.6" style="font-style:normal;font-weight:normal">TKO&#8211;0900.Z.73&#8211;S4D560</text>
<text x="0" y="0" font-size="24" transform="translate(1245.27 925.15) scale(1.0915 1.0091) skewX(-14)" stroke="#000" stroke-width="0.6" style="font-style:normal;font-weight:normal">&#1054;&#1093;&#1083;&#1072;&#1076;&#1080;&#1090;&#1077;&#1083;&#1100;</text>
<text x="0" y="0" font-size="24" transform="translate(1263.56 951.53) scale(1.0756 0.8731) skewX(-14)" stroke="#000" stroke-width="0.6" style="font-style:normal;font-weight:normal">&#1082;&#1086;&#1085;&#1094;&#1077;&#1074;&#1086;&#1081;</text>
<text x="0" y="0" font-size="22" transform="translate(759.46 994.54) scale(1.1517 1.3763) skewX(-15)" stroke="#fff" stroke-width="0.7" style="font-style:normal;font-weight:normal">G</text>
<text x="0" y="0" font-size="22" transform="translate(795.31 994.90) scale(1.3959 1.4000) skewX(-15)" stroke="#fff" stroke-width="0.7" style="font-style:normal;font-weight:normal">2</text>
<text x="0" y="0" font-size="17" transform="translate(831.79 993.93) scale(1.6644 1.7021) skewX(-15)" stroke="#fff" stroke-width="0.6" style="font-style:normal;font-weight:normal">1/2&#8221;</text>
</g>
</svg>
</body></html>
